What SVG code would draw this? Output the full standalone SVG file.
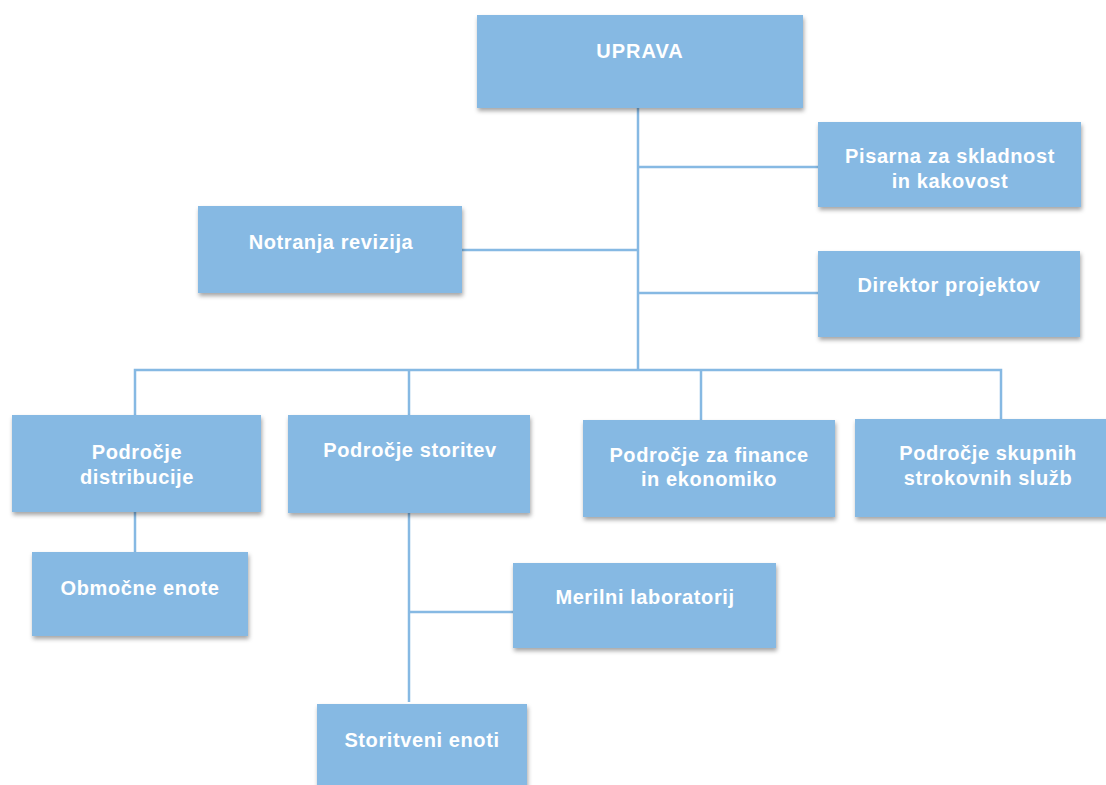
<svg xmlns="http://www.w3.org/2000/svg" width="1106" height="785" viewBox="0 0 1106 785">
<defs>
<filter id="sh" x="-10%" y="-10%" width="130%" height="140%">
<feDropShadow dx="1" dy="3" stdDeviation="2" flood-color="#000" flood-opacity="0.35"/>
</filter>
<style>
.box{fill:#86B9E3;filter:url(#sh);}
.t{font-family:"Liberation Sans",Arial,sans-serif;font-weight:bold;font-size:20px;fill:#fff;text-anchor:middle;letter-spacing:0.6px;}
.c{stroke:#86B9E3;stroke-width:2.5;fill:none;}
</style>
</defs>
<rect width="1106" height="785" fill="#fff"/>
<g id="connectors">
<path class="c" d="M638 108V370"/>
<path class="c" d="M638 167H818"/>
<path class="c" d="M638 293H818"/>
<path class="c" d="M462 250H638"/>
<path class="c" d="M135 416V370H1001V420"/>
<path class="c" d="M409 370V416"/>
<path class="c" d="M701 370V421"/>
<path class="c" d="M135 512V552"/>
<path class="c" d="M409 513V702"/>
<path class="c" d="M409 612H513"/>
</g>
<g id="uprava"><rect class="box" x="477" y="15" width="326" height="93"/><text class="t" x="640" y="58" style="letter-spacing:1px">UPRAVA</text></g>
<g id="pisarna"><rect class="box" x="818" y="122" width="263" height="85"/><text class="t" x="950" y="163">Pisarna za skladnost</text><text class="t" x="950" y="188">in kakovost</text></g>
<g id="direktor"><rect class="box" x="818" y="251" width="262" height="86"/><text class="t" x="949" y="292">Direktor projektov</text></g>
<g id="notranja"><rect class="box" x="198" y="206" width="264" height="87"/><text class="t" x="331" y="249">Notranja revizija</text></g>
<g id="distribucija"><rect class="box" x="12" y="415" width="249" height="97"/><text class="t" x="137" y="459">Področje</text><text class="t" x="137" y="484">distribucije</text></g>
<g id="storitve"><rect class="box" x="288" y="415" width="242" height="98"/><text class="t" x="410" y="457">Področje storitev</text></g>
<g id="finance"><rect class="box" x="583" y="420" width="252" height="97"/><text class="t" x="709" y="462">Področje za finance</text><text class="t" x="709" y="486">in ekonomiko</text></g>
<g id="skupne"><rect class="box" x="855" y="419" width="255" height="98"/><text class="t" x="988" y="460">Področje skupnih</text><text class="t" x="988" y="485">strokovnih služb</text></g>
<g id="obmocne"><rect class="box" x="32" y="552" width="216" height="84"/><text class="t" x="140" y="595">Območne enote</text></g>
<g id="merilni"><rect class="box" x="513" y="563" width="263" height="85"/><text class="t" x="645" y="604">Merilni laboratorij</text></g>
<g id="storitveni"><rect class="box" x="317" y="704" width="210" height="90"/><text class="t" x="422" y="747">Storitveni enoti</text></g>
</svg>
